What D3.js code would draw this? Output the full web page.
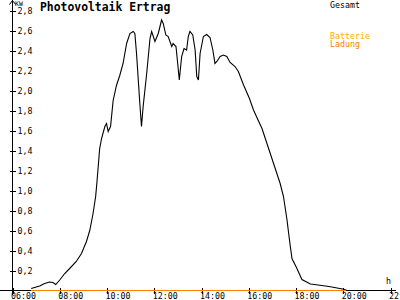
<!DOCTYPE html>
<html>
<head>
<meta charset="utf-8">
<script src="https://cdn.jsdelivr.net/npm/d3@7"></script>
<style>
  body { margin: 0; background: #fff; }
  svg { display: block; }
  text { font-family: "DejaVu Sans Mono", monospace; }
</style>
</head>
<body>
<div id="chart"></div>
<script>
// Gesamt (kW) over the day, hours as decimals
const gesamtHours = [6.79, 7.15, 7.36, 7.57, 7.71, 7.83, 8.0, 8.21, 8.42, 8.7, 8.92, 9.13, 9.27, 9.41, 9.52, 9.58,
  9.69, 9.77, 9.91, 9.98, 10.05, 10.15, 10.26, 10.4, 10.54, 10.68, 10.83, 10.97, 11.11, 11.18, 11.25, 11.39,
  11.46, 11.53, 11.68, 11.82, 11.89, 12.03, 12.17, 12.31, 12.38, 12.49, 12.59, 12.74, 12.8, 12.92, 13.02, 13.06,
  13.16, 13.26, 13.37, 13.44, 13.51, 13.63, 13.73, 13.8, 13.87, 13.94, 14.08, 14.22, 14.36, 14.48, 14.57, 14.65,
  14.79, 14.93, 15.07, 15.21, 15.42, 15.56, 15.78, 16.03, 16.2, 16.56, 16.77, 17.05, 17.33, 17.47, 17.62, 17.69,
  17.76, 17.83, 18.04, 18.25, 18.61, 19.17, 19.46, 20.02, 20.16];
const gesamtValues = [0.02, 0.045, 0.07, 0.085, 0.08, 0.06, 0.105, 0.17, 0.22, 0.29, 0.37, 0.49, 0.6, 0.77, 0.94, 1.1,
  1.42, 1.52, 1.64, 1.67, 1.59, 1.64, 1.9, 2.05, 2.15, 2.27, 2.47, 2.57, 2.59, 2.57, 2.37, 1.87,
  1.64, 1.84, 2.17, 2.52, 2.59, 2.49, 2.57, 2.705, 2.67, 2.555, 2.54, 2.44, 2.47, 2.44, 2.205, 2.105,
  2.34, 2.42, 2.405, 2.54, 2.59, 2.555, 2.405, 2.14, 2.105, 2.37, 2.54, 2.56, 2.53, 2.405, 2.27, 2.29,
  2.34, 2.355, 2.34, 2.28, 2.24, 2.19, 2.055, 1.92, 1.805, 1.62, 1.47, 1.27, 1.07, 0.94, 0.705, 0.57,
  0.44, 0.32, 0.22, 0.11, 0.065, 0.048, 0.038, 0.012, 0.0];

// Batterie Ladung (kW)
const ladungHours = [6.78, 20.1];
const ladungValues = [0, 0];

const xTicks = [6, 8, 10, 12, 14, 16, 18, 20, 22];
const yTicks = [0.2, 0.4, 0.6, 0.8, 1.0, 1.2, 1.4, 1.6, 1.8, 2.0, 2.2, 2.4, 2.6, 2.8];

const W = 400, H = 300;
const svg = d3.select("#chart").append("svg")
  .attr("width", W).attr("height", H)
  .style("background", "#fff");

const x = d3.scaleLinear().domain([6, 22]).range([12.5, 390.5]);
const y = d3.scaleLinear().domain([0, 2.8]).range([290.5, 10.5]);

const fmtY = v => d3.format(".1f")(v).replace(".", ",");
const fmtX = h => d3.format("02d")(h) + ":00";

// y axis ticks + labels
const yAxis = svg.append("g")
  .attr("transform", "translate(12.5,0)")
  .call(d3.axisLeft(y).tickValues(yTicks).tickFormat(fmtY).tickSizeOuter(0));
yAxis.select(".domain").remove();
yAxis.selectAll(".tick line").attr("x1", -3).attr("x2", 3)
  .attr("stroke", "#000").attr("shape-rendering", "crispEdges");
yAxis.selectAll(".tick text").attr("x", 5).attr("dy", "0.4em").attr("text-anchor", "start")
  .attr("font-size", "8.3px").attr("font-family", "DejaVu Sans Mono").attr("fill", "#000");

// x axis ticks + labels
const xAxis = svg.append("g")
  .attr("transform", "translate(0,290.5)")
  .call(d3.axisBottom(x).tickValues(xTicks).tickFormat(fmtX).tickSizeOuter(0));
xAxis.select(".domain").remove();
xAxis.selectAll(".tick line").attr("y1", -3).attr("y2", 3)
  .attr("stroke", "#000").attr("shape-rendering", "crispEdges");
xAxis.selectAll(".tick text").attr("x", -2).attr("y", 8).attr("dy", 0)
  .attr("text-anchor", "start")
  .attr("font-size", "8.3px").attr("font-family", "DejaVu Sans Mono").attr("fill", "#000");

// axis lines with arrows
svg.append("line").attr("x1", 12.5).attr("x2", 12.5).attr("y1", 0).attr("y2", 295)
  .attr("stroke", "#000").attr("shape-rendering", "crispEdges");
svg.append("line").attr("x1", 0).attr("x2", 396).attr("y1", 290.5).attr("y2", 290.5)
  .attr("stroke", "#000").attr("shape-rendering", "crispEdges");
svg.append("path").attr("d", "M9.5,4.5 L12.5,0.5 L15.5,4.5")
  .attr("fill", "none").attr("stroke", "#000");

svg.append("text").attr("x", 15).attr("y", 6).attr("font-size", "6.5px").text("KW");
svg.append("text").attr("x", 386).attr("y", 284).attr("font-size", "8.3px").text("h");

// title
svg.append("text").attr("x", 40).attr("y", 11)
  .attr("font-size", "11.4px").attr("font-weight", "bold").text("Photovoltaik Ertrag");

// legend
svg.append("text").attr("x", 330).attr("y", 8).attr("font-size", "8.3px").attr("fill", "#000").text("Gesamt");
svg.append("text").attr("x", 330).attr("y", 38.5).attr("font-size", "8.3px").attr("fill", "#ffaa00").text("Batterie");
svg.append("text").attr("x", 330).attr("y", 47).attr("font-size", "8.3px").attr("fill", "#ff8000").text("Ladung");

const line = d3.line().x(d => x(d[0])).y(d => y(d[1]));

svg.append("path")
  .datum(gesamtHours.map((h, i) => [h, gesamtValues[i]]))
  .attr("d", line)
  .attr("fill", "none").attr("stroke", "#000").attr("stroke-width", 1.1);

svg.append("path")
  .datum(ladungHours.map((h, i) => [h, ladungValues[i]]))
  .attr("d", line)
  .attr("fill", "none").attr("stroke", "#ff8000").attr("stroke-width", 1)
  .attr("shape-rendering", "crispEdges");
</script>
</body>
</html>
